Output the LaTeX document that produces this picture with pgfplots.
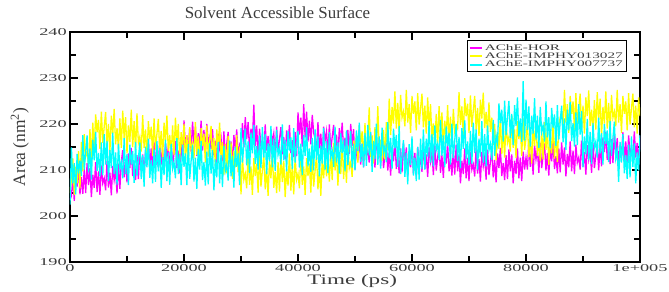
\documentclass[border=0pt]{standalone}
\usepackage{pgfplots}
\pgfplotsset{compat=1.18}
\usepackage{pgfplotstable}
\usepackage{graphicx}
\usepackage{fontspec}
\setmainfont{Liberation Serif}
\definecolor{mg}{RGB}{255,0,255}
\definecolor{yl}{RGB}{255,255,0}
\definecolor{cy}{RGB}{0,255,255}
\definecolor{txt}{RGB}{60,60,60}
\newcommand\wide[1]{\scalebox{1.75}[1]{#1}}
\newcommand\lw[1]{\scalebox{1.8}[1]{#1}}

\pgfplotstableread{
t hor y13 y77
0 203.5 205.0 202.5
250 204.4 207.9 214.9
500 208.2 212.5 207.1
750 203.3 204.6 211.5
1000 209.6 210.7 204.7
1250 206.4 207.1 213.5
1500 210.8 214.1 209.2
1750 204.7 206.0 212.1
2000 208.5 216.1 208.7
2250 204.8 209.7 217.6
2500 210.2 217.8 210.1
2750 205.0 212.9 214.0
3000 211.5 214.2 217.5
3250 206.7 211.0 209.5
3500 210.4 218.9 214.7
3750 204.1 211.8 207.9
4000 209.0 220.3 216.6
4250 206.1 214.1 212.1
4500 211.7 222.1 218.3
4750 205.2 218.2 209.8
5000 209.7 220.9 213.7
5250 204.6 214.6 208.6
5500 211.0 222.7 216.0
5750 207.1 215.9 208.9
6000 208.2 219.4 217.8
6250 205.6 222.6 211.2
6500 211.9 215.3 216.3
6750 206.2 220.0 207.6
7000 209.4 213.9 214.3
7250 204.5 221.8 210.4
7500 210.9 217.7 218.1
7750 207.8 223.3 209.1
8000 209.9 215.6 213.8
8250 204.9 219.1 206.8
8500 211.4 214.5 215.7
8750 205.9 221.2 210.3
9000 211.7 214.8 211.7
9250 214.3 222.9 208.2
9500 208.4 216.9 216.9
9750 212.2 221.5 209.1
10000 207.3 213.6 213.5
10250 213.6 219.7 206.7
10500 210.4 216.1 215.5
10750 214.8 223.1 211.2
11000 208.7 215.0 214.1
11250 211.5 220.6 207.2
11500 207.8 214.2 216.1
11750 213.2 222.3 208.6
12000 208.0 215.9 212.5
12250 214.5 217.2 216.0
12500 209.7 214.0 208.0
12750 213.4 221.9 213.2
13000 209.1 214.8 206.4
13250 214.0 218.8 215.1
13500 211.1 212.6 210.6
13750 216.7 220.6 216.8
14000 210.2 216.7 208.3
14250 214.7 219.4 212.2
14500 209.6 213.1 207.1
14750 216.0 221.2 214.5
15000 212.1 214.4 207.4
15250 213.2 217.9 216.3
15500 210.6 221.1 209.7
15750 216.9 213.8 214.8
16000 211.2 218.5 206.1
16250 214.4 212.4 212.8
16500 209.5 220.3 208.9
16750 215.9 216.2 216.6
17000 212.8 221.8 207.6
17250 214.9 214.1 213.8
17500 209.9 217.6 206.8
17750 216.4 213.0 215.7
18000 210.9 219.7 210.3
18250 213.7 213.3 211.7
18500 216.3 221.4 208.2
18750 210.4 215.4 216.9
19000 214.2 220.0 209.1
19250 209.3 212.1 213.5
19500 215.6 218.2 206.7
19750 212.4 214.6 215.5
20000 220.8 220.1 210.7
20250 214.7 212.0 213.6
20500 217.5 217.6 206.7
20750 213.8 211.2 215.6
21000 219.2 219.3 208.1
21250 214.0 214.4 212.0
21500 220.5 215.7 215.5
21750 215.7 212.5 207.5
22000 219.4 220.4 212.7
22250 213.1 213.3 205.9
22500 218.0 217.3 214.6
22750 215.1 211.1 210.1
23000 220.7 219.1 216.3
23250 214.2 215.2 207.8
23500 218.7 217.9 211.7
23750 213.6 211.6 206.6
24000 220.0 219.7 214.0
24250 216.1 212.9 206.9
24500 217.2 216.4 215.8
24750 214.6 219.6 209.2
25000 218.9 212.3 214.3
25250 213.2 217.0 205.6
25500 216.4 210.9 212.3
25750 211.5 218.8 208.4
26000 217.9 214.7 216.1
26250 214.8 220.3 207.1
26500 216.9 212.6 213.3
26750 211.9 216.1 206.3
27000 218.4 209.0 215.2
27250 212.9 215.7 209.8
27500 215.7 209.3 211.2
27750 218.3 217.4 207.7
28000 212.4 211.4 216.4
28250 216.2 216.0 208.6
28500 211.3 208.1 213.0
28750 217.6 214.2 206.2
29000 214.4 210.6 215.0
29250 218.8 217.6 210.7
29500 212.7 209.5 213.6
29750 215.5 215.1 206.7
30000 214.8 204.7 219.1
30250 220.2 212.8 211.6
30500 215.0 207.9 215.5
30750 221.5 209.2 219.0
31000 216.7 206.0 211.0
31250 220.4 213.9 216.2
31500 214.1 206.8 209.4
31750 219.0 210.8 218.1
32000 216.1 204.6 213.6
32250 224.2 212.6 219.8
32500 215.2 208.7 211.3
32750 219.7 211.4 215.2
33000 212.6 205.1 210.1
33250 219.0 213.2 217.5
33500 215.1 206.4 210.4
33750 216.2 209.9 219.3
34000 213.6 213.1 212.7
34250 219.9 205.8 217.8
34500 214.2 210.5 209.1
34750 217.4 204.4 215.8
35000 212.5 212.3 211.9
35250 218.9 208.2 219.6
35500 215.8 213.8 210.6
35750 217.9 206.1 216.8
36000 212.9 209.6 209.8
36250 219.4 205.0 218.7
36500 213.9 211.7 213.3
36750 216.7 205.3 214.7
37000 219.3 213.4 211.2
37250 213.4 207.4 219.9
37500 217.2 212.0 212.1
37750 212.3 204.1 216.5
38000 218.6 210.2 209.7
38250 215.4 206.6 218.5
38500 219.8 213.6 214.2
38750 213.7 205.5 217.1
39000 216.5 211.1 210.2
39250 212.8 204.7 219.1
39500 218.2 212.8 211.6
39750 213.0 207.9 215.5
40000 222.5 209.2 218.5
40250 217.7 206.0 210.5
40500 221.4 213.9 215.7
40750 215.1 206.8 208.9
41000 224.3 210.8 217.6
41250 217.1 204.6 213.1
41500 222.7 212.6 219.3
41750 216.2 208.7 210.8
42000 220.7 211.4 214.7
42250 215.6 205.1 209.6
42500 222.0 213.2 217.0
42750 218.1 206.4 209.9
43000 216.7 209.9 218.8
43250 214.1 213.1 212.2
43500 220.4 205.8 217.3
43750 214.7 210.5 208.6
44000 217.9 204.4 215.3
44250 213.0 212.3 211.4
44500 219.4 208.2 219.1
44750 216.3 213.8 210.1
45000 218.4 208.6 216.3
45250 213.4 212.1 209.3
45500 219.9 207.5 218.2
45750 214.4 214.2 212.8
46000 217.2 207.8 214.2
46250 219.8 215.9 210.7
46500 213.9 209.9 219.4
46750 217.7 214.5 211.6
47000 212.8 206.6 216.0
47250 219.1 212.7 209.2
47500 215.9 209.1 218.0
47750 220.3 216.1 213.7
48000 214.2 208.0 216.6
48250 217.0 213.6 209.7
48500 213.3 207.2 218.6
48750 218.7 215.3 211.1
49000 213.5 210.4 215.0
49250 220.0 211.7 218.5
49500 215.2 208.5 210.5
49750 218.9 216.4 215.7
50000 210.1 213.8 209.9
50250 215.0 217.8 218.6
50500 212.1 211.6 214.1
50750 217.7 219.6 220.3
51000 211.2 215.7 211.8
51250 215.7 218.4 215.7
51500 210.6 212.1 210.6
51750 217.0 220.2 218.0
52000 213.1 213.4 210.9
52250 214.2 216.9 219.8
52500 211.6 223.6 213.2
52750 217.9 212.8 218.3
53000 212.2 217.5 209.6
53250 215.4 211.4 216.3
53500 210.5 219.3 212.4
53750 216.9 215.2 220.1
54000 213.8 223.9 211.1
54250 215.9 213.1 217.3
54500 210.9 216.6 210.3
54750 217.4 212.0 219.2
55000 210.4 218.7 213.8
55250 213.2 212.3 215.2
55500 215.8 220.4 211.7
55750 209.9 214.4 220.4
56000 213.7 225.5 212.6
56250 208.8 217.6 217.0
56500 215.1 223.7 210.2
56750 211.9 220.1 219.0
57000 216.3 227.1 214.7
57250 210.2 219.0 217.6
57500 213.0 224.6 210.7
57750 209.3 218.2 219.6
58000 214.7 226.3 209.1
58250 209.5 221.4 213.0
58500 216.0 222.7 216.5
58750 211.2 219.5 208.5
59000 214.9 227.4 213.7
59250 208.6 220.3 206.9
59500 213.5 224.3 215.6
59750 210.6 218.1 211.1
60000 215.7 226.1 217.3
60250 209.2 222.2 208.8
60500 213.7 224.9 212.7
60750 208.6 218.6 207.6
61000 215.0 226.7 215.0
61250 211.1 219.9 207.9
61500 212.2 223.4 216.8
61750 209.6 226.6 210.2
62000 215.9 219.3 218.8
62250 210.2 224.0 210.1
62500 213.4 217.9 216.8
62750 208.5 225.8 212.9
63000 214.9 218.7 220.6
63250 211.8 224.3 211.6
63500 213.9 216.6 217.8
63750 208.9 220.1 210.8
64000 215.4 215.5 219.7
64250 209.9 222.2 214.3
64500 212.7 215.8 215.7
64750 215.3 223.9 212.2
65000 209.4 217.9 220.9
65250 213.2 222.5 213.1
65500 208.3 214.6 217.5
65750 214.6 220.7 210.7
66000 211.4 217.1 219.5
66250 215.8 224.1 215.2
66500 209.7 216.0 218.1
66750 212.5 221.6 211.2
67000 208.8 215.2 220.1
67250 214.2 223.3 212.6
67500 209.0 218.4 216.5
67750 215.5 219.7 220.0
68000 209.7 219.0 212.0
68250 213.4 226.9 217.2
68500 207.1 219.8 210.4
68750 212.0 223.8 219.1
69000 209.1 217.6 214.6
69250 214.7 225.6 220.8
69500 208.2 221.7 212.3
69750 212.7 224.4 216.2
70000 207.6 218.1 211.1
70250 214.0 226.2 218.5
70500 210.1 219.4 211.4
70750 211.2 222.9 220.3
71000 208.6 226.1 213.7
71250 214.9 218.8 218.8
71500 209.2 223.5 210.1
71750 212.4 217.4 216.8
72000 207.5 225.3 212.9
72250 213.9 221.2 220.6
72500 210.8 226.8 211.6
72750 212.9 219.1 217.8
73000 207.9 222.6 210.8
73250 214.4 218.0 219.7
73500 208.9 224.7 214.3
73750 211.7 218.3 215.7
74000 214.3 221.4 212.2
74250 208.4 215.4 220.9
74500 212.2 220.0 213.1
74750 207.3 212.1 217.5
75000 213.6 218.2 215.7
75250 210.4 214.6 224.5
75500 214.8 221.6 220.2
75750 208.7 213.5 223.1
76000 211.5 219.1 216.2
76250 207.8 212.7 225.1
76500 213.2 220.8 217.6
76750 208.0 215.9 221.5
77000 214.5 217.2 225.0
77250 209.7 214.0 217.0
77500 213.4 221.9 222.2
77750 207.1 214.8 215.4
78000 212.0 218.8 224.1
78250 209.1 212.6 219.6
78500 214.7 220.6 225.8
78750 208.2 216.7 217.3
79000 212.7 219.4 221.2
79250 207.6 213.1 216.1
79500 214.0 221.2 229.3
79750 210.1 214.4 216.4
80000 212.7 216.9 225.3
80250 210.1 220.1 218.7
80500 216.4 212.8 223.8
80750 210.7 217.5 215.1
81000 213.9 211.4 221.8
81250 209.0 219.3 217.9
81500 215.4 215.2 225.6
81750 212.3 220.8 216.6
82000 214.4 213.1 221.8
82250 209.4 216.6 214.8
82500 215.9 212.0 223.7
82750 210.4 218.7 218.3
83000 213.2 212.3 219.7
83250 215.8 220.4 216.2
83500 209.9 214.4 224.9
83750 213.7 219.0 217.1
84000 208.8 211.1 221.5
84250 215.1 217.2 214.7
84500 211.9 213.6 223.5
84750 216.3 220.6 219.2
85000 210.2 212.5 222.1
85250 213.0 218.1 215.2
85500 209.3 211.7 224.1
85750 214.7 219.8 216.6
86000 209.5 221.4 220.5
86250 216.0 222.7 224.0
86500 211.2 219.5 216.0
86750 214.9 227.4 221.2
87000 208.6 220.3 214.4
87250 213.5 224.3 223.1
87500 210.6 218.1 218.6
87750 216.2 226.1 224.8
88000 209.7 222.2 216.3
88250 214.2 224.9 220.2
88500 209.1 218.6 215.1
88750 215.5 226.7 222.5
89000 211.6 219.9 215.4
89250 212.7 223.4 224.3
89500 210.1 226.6 217.7
89750 216.4 219.3 222.8
90000 210.7 224.0 210.6
90250 213.9 217.9 217.3
90500 209.0 225.8 213.4
90750 215.4 221.7 221.1
91000 212.3 227.3 212.1
91250 214.4 219.6 218.3
91500 209.4 223.1 211.3
91750 215.9 218.5 220.2
92000 210.4 225.2 214.8
92250 213.2 218.8 216.2
92500 215.8 226.9 212.7
92750 209.9 220.9 221.4
93000 215.7 225.5 213.6
93250 210.8 217.6 218.0
93500 217.1 223.7 211.2
93750 213.9 220.1 220.0
94000 218.3 227.1 215.7
94250 212.2 219.0 218.6
94500 215.0 224.6 211.7
94750 211.3 218.2 220.6
95000 216.7 226.3 213.1
95250 211.5 221.4 217.0
95500 218.0 222.7 220.5
95750 213.2 219.5 212.5
96000 216.9 227.4 214.2
96250 210.6 220.3 207.4
96500 215.5 224.3 216.1
96750 212.6 218.1 211.6
97000 218.2 226.1 217.8
97250 211.7 222.2 209.3
97500 216.2 224.9 213.2
97750 211.1 218.6 208.1
98000 217.5 226.7 215.5
98250 213.6 219.9 208.4
98500 214.7 223.4 217.3
98750 212.1 226.6 210.7
99000 218.4 219.3 215.8
99250 212.7 224.0 207.1
99500 215.9 217.9 213.8
99750 211.0 225.8 209.9
100000 217.4 221.7 217.6
}\sasadata

\begin{document}
\begin{tikzpicture}[x=1bp,y=1bp]
\useasboundingbox (-70,-29) rectangle (599,262);
\begin{axis}[
  at={(0,0)}, anchor=south west,
  scale only axis, width=570bp, height=230bp,
  xmin=0, xmax=100000, ymin=190, ymax=240,
  scaled x ticks=false, scaled y ticks=false,
  xtick={0,20000,40000,60000,80000,100000},
  xticklabels={\wide{0},\wide{20000},\wide{40000},\wide{60000},\wide{80000},\wide{1e+005}},
  ytick={190,200,210,220,230,240},
  yticklabels={\wide{190},\wide{200},\wide{210},\wide{220},\wide{230},\wide{240}},
  minor x tick num=1, minor y tick num=1,
  tick align=inside,
  major tick length=8bp, minor tick length=6bp,
  every tick/.style={black, line width=1.6bp},
  axis line style={black, line width=1.6bp},
  ticklabel style={font=\fontsize{10.5}{12}\selectfont, text=txt},
  xticklabel style={inner sep=2bp},
  yticklabel style={inner sep=3bp},
  title={Solvent Accessible Surface},
  title style={at={(axis description cs:0.364,1.06)}, anchor=center, yshift=0pt, font=\fontsize{17}{19}\selectfont, text=txt},
  xlabel={\fontsize{14.5}{16}\selectfont\scalebox{1.6}[1]{Time (ps)}},
  xlabel style={at={(axis description cs:0.495,-0.083)}, anchor=center, yshift=0pt, text=txt},
  ylabel={\fontsize{17.5}{19}\selectfont Area (nm\textsuperscript{2})},
  ylabel style={at={(axis description cs:-0.088,0.5)}, anchor=center, xshift=0pt, text=txt},
  legend style={at={(axis description cs:0.977,0.965)}, anchor=north east,
    draw=black, line width=1.2bp, inner sep=1.5bp, row sep=-3bp,
    font=\fontsize{8.5}{9}\selectfont, text=txt, cells={anchor=west}},
  legend image code/.code={\draw[#1, line width=2bp] (0bp,0bp) -- (12bp,0bp);},
]
\addplot[mg, line width=1.3bp] table[x=t, y=hor] {\sasadata};
\addlegendentry{\lw{AChE-HOR}}
\addplot[yl, line width=1.3bp] table[x=t, y=y13] {\sasadata};
\addlegendentry{\lw{AChE-IMPHY013027}}
\addplot[cy, line width=1.3bp] table[x=t, y=y77] {\sasadata};
\addlegendentry{\lw{AChE-IMPHY007737}}
\end{axis}
\end{tikzpicture}
\end{document}
